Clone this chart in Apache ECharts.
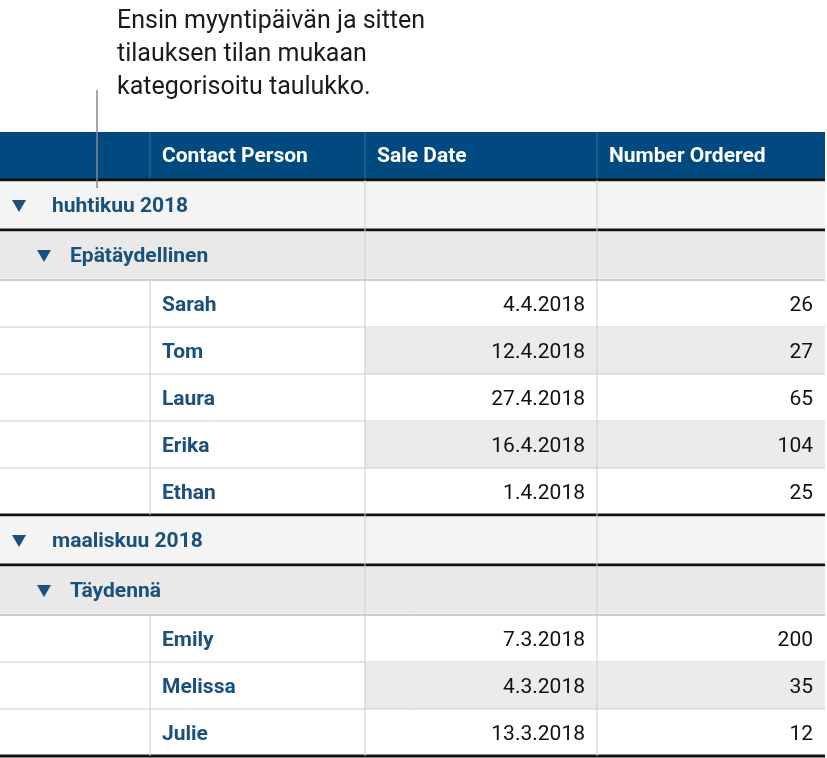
<!DOCTYPE html>
<html><head><meta charset="utf-8">
<script src="https://cdn.jsdelivr.net/npm/echarts@6/dist/echarts.min.js"></script>
<style>html,body{margin:0;padding:0;background:#fff}#c{width:827px;height:758px}</style>
</head><body><div id="c"></div>
<script>
const headers = ["", "Contact Person", "Sale Date", "Number Ordered"];
const annotation = ["Ensin myyntipäivän ja sitten", "tilauksen tilan mukaan", "kategorisoitu taulukko."];
const groups = ["huhtikuu 2018", "maaliskuu 2018"];
const subgroups = ["Epätäydellinen", "Täydennä"];
const names = [["Sarah","Tom","Laura","Erika","Ethan"],["Emily","Melissa","Julie"]];
const dates = [["4.4.2018","12.4.2018","27.4.2018","16.4.2018","1.4.2018"],["7.3.2018","4.3.2018","13.3.2018"]];
const ordered = [[26,27,65,104,25],[200,35,12]];

const colX = [0,150,365,597,825];
const blue = "#004A80", nameBlue = "#1B4F7C";
const F = "Roboto, 'Liberation Sans', sans-serif";
const els = [];
function rect(x,y,w,h,fill){els.push({type:'rect',shape:{x,y,width:w,height:h},style:{fill},silent:true});}
function line(x1,y1,x2,y2,stroke,w){els.push({type:'line',shape:{x1,y1,x2,y2},style:{stroke,lineWidth:w},silent:true});}
function text(x,y,t,opt){els.push({type:'text',x,y,style:Object.assign({text:t,font:'21px '+F,fill:'#111',textVerticalAlign:'middle'},opt),silent:true});}
function tri(x,y){els.push({type:'polygon',shape:{points:[[x-7,y-6],[x+7,y-6],[x,y+6]]},style:{fill:nameBlue},silent:true});}

annotation.forEach((t,i)=>text(117,22+i*33,t,{font:'25px '+F,fill:'#1a1a1a'}));

rect(0,132,825,48,blue);
headers.forEach((h,i)=>{ if(h) text(colX[i]+12,157,h,{font:'bold 21px '+F,fill:'#fff'}); });
line(150,132,150,180,'#336e9c',1);line(365,132,365,180,'#336e9c',1);line(597,132,597,180,'#336e9c',1);

let y=180; const gh=50, rh=47;
const gridLines=[];
groups.forEach((g,gi)=>{
  line(0,y,825,y,'#111',3);
  rect(0,y+1.5,825,gh-3,'#F4F4F4');
  tri(19,y+gh/2+1); text(52,y+gh/2+2,g,{font:'bold 21px '+F,fill:nameBlue});
  gridLines.push([y,y+gh]);
  y+=gh;
  line(0,y,825,y,'#111',3);
  rect(0,y+1.5,825,gh-3,'#E9E9E9');
  tri(44,y+gh/2+1); text(70,y+gh/2+2,subgroups[gi],{font:'bold 21px '+F,fill:nameBlue});
  gridLines.push([y,y+gh]);
  y+=gh;
  line(0,y,825,y,'#999',1);
  names[gi].forEach((n,ri)=>{
    if(ri%2===1) rect(365,y,460,rh,'#EBEBEB');
    text(162,y+rh/2+2,n,{font:'bold 21px '+F,fill:nameBlue});
    text(585,y+rh/2+2,dates[gi][ri],{textAlign:'right'});
    text(813,y+rh/2+2,String(ordered[gi][ri]),{textAlign:'right'});
    gridLines.push([y,y+rh,true]);
    y+=rh;
    line(0,y,825,y,'#ccc',1);
  });
});
line(0,y,825,y,'#111',3);
gridLines.forEach(([a,b,data])=>{
  if(data){line(150,a,150,b,'#ccc',1);}
  line(365,a,365,b,'#ccc',1);line(597,a,597,b,'#ccc',1);
});
line(97,90,97,188,'#888',1.5);
const chart = echarts.init(document.getElementById('c'),null,{renderer:'canvas'});
chart.setOption({graphic:{elements:els}});
</script></body></html>
